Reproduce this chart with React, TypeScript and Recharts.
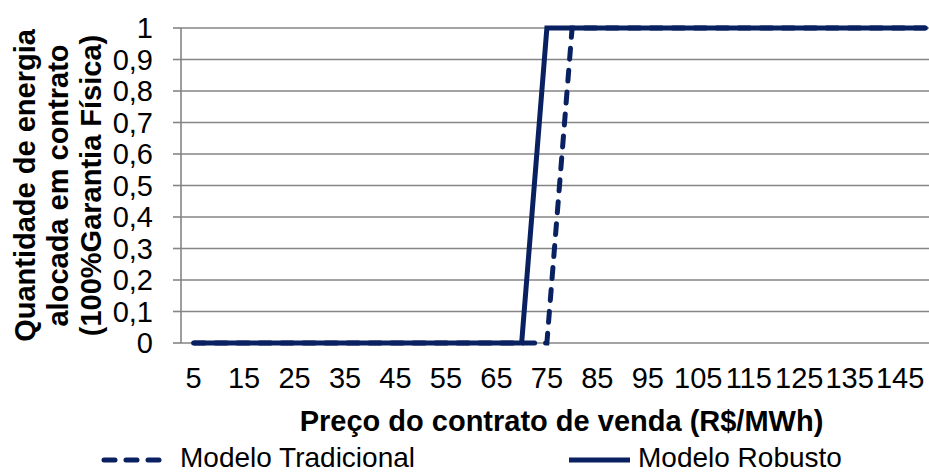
import { CartesianGrid, Legend, Line, LineChart, XAxis, YAxis } from 'recharts';

// Sale price of the contract (R$/MWh), one category every 5
const prices = [5, 10, 15, 20, 25, 30, 35, 40, 45, 50, 55, 60, 65, 70, 75, 80, 85, 90, 95, 100, 105, 110, 115, 120, 125, 130, 135, 140, 145, 150];

// Share of the physical guarantee allocated in contract
const tradicional = [0, 0, 0, 0, 0, 0, 0, 0, 0, 0, 0, 0, 0, 0, 0, 1, 1, 1, 1, 1, 1, 1, 1, 1, 1, 1, 1, 1, 1, 1];
const robusto = [0, 0, 0, 0, 0, 0, 0, 0, 0, 0, 0, 0, 0, 0, 1, 1, 1, 1, 1, 1, 1, 1, 1, 1, 1, 1, 1, 1, 1, 1];

const priceLabels = [5, 15, 25, 35, 45, 55, 65, 75, 85, 95, 105, 115, 125, 135, 145];
const energyTicks = [0, 0.1, 0.2, 0.3, 0.4, 0.5, 0.6, 0.7, 0.8, 0.9, 1];

const yTitleLines = ['Quantidade de energia', 'alocada em contrato', '(100%Garantia Física)'];
const xTitle = 'Preço do contrato de venda (R$/MWh)';

const data = prices.map((price, i) => ({ price, tradicional: tradicional[i], robusto: robusto[i] }));

// Excel-style category bands: tick marks sit on the band edges, labels in the middle
const halfStep = 2.5;
const bandEdges = [...prices.map((p) => p - halfStep), prices[prices.length - 1] + halfStep];
const xDomain = [prices[0] - halfStep, prices[prices.length - 1] + halfStep];

const FONT = '"Liberation Sans", Arial, sans-serif';
const NAVY = '#0a2161';
const GRID = '#858585';

function EnergyAxisTitle(props: any) {
  const vb = props.viewBox || { y: 28, height: 315 };
  const cy = vb.y + vb.height / 2;
  return (
    <g>
      {yTitleLines.map((line, i) => {
        const x = 35 + i * 33;
        return (
          <text
            key={line}
            x={x}
            y={cy}
            transform={`rotate(-90 ${x} ${cy})`}
            textAnchor="middle"
            fontFamily={FONT}
            fontWeight="bold"
            fontSize={29}
            fill="#000"
          >
            {line}
          </text>
        );
      })}
    </g>
  );
}

function PriceAxisTitle(props: any) {
  const vb = props.viewBox || { x: 181, y: 343, width: 757 };
  return (
    <text
      x={vb.x + vb.width / 2 + 2}
      y={vb.y + 88}
      textAnchor="middle"
      fontFamily={FONT}
      fontWeight="bold"
      fontSize={29}
      fill="#000"
    >
      {xTitle}
    </text>
  );
}

// legend placement, keyed by series name (dashed series first)
const legendSlots: Record<string, { x1: number; x2: number; textX: number }> = {
  'Modelo Tradicional': { x1: 104, x2: 163, textX: 180 },
  'Modelo Robusto': { x1: 569, x2: 630, textX: 638 },
};

function LegendContent(props: any) {
  const payload = props.payload || [];
  return (
    <svg width={929} height={33}>
      {payload.map((entry: any) => {
        const slot = legendSlots[entry.value];
        if (!slot) return null;
        const dash = entry.payload?.strokeDasharray;
        return (
          <g key={entry.value}>
            <line
              x1={slot.x1}
              x2={slot.x2}
              y1={20}
              y2={20}
              stroke={NAVY}
              strokeWidth={5}
              strokeDasharray={dash}
              strokeLinecap={dash ? 'round' : 'butt'}
            />
            <text x={slot.textX} y={26.5} fontFamily={FONT} fontSize={28} fill="#000">
              {entry.value}
            </text>
          </g>
        );
      })}
    </svg>
  );
}

export default function App() {
  return (
    <div style={{ position: 'absolute', left: 0, top: 0, width: 929, height: 473, overflow: 'hidden', background: '#fff' }}>
      <LineChart width={946} height={473} data={data} margin={{ top: 28, right: 8, bottom: 0, left: 0 }}>
        <CartesianGrid vertical={false} stroke={GRID} strokeWidth={1.6} />
        <XAxis
          xAxisId="bands"
          dataKey="price"
          type="number"
          domain={xDomain}
          ticks={bandEdges}
          height={0}
          tickSize={9}
          tickFormatter={() => ''}
          stroke={GRID}
          strokeWidth={1.6}
          tickLine={{ stroke: GRID, strokeWidth: 1.6 }}
          axisLine={{ stroke: GRID, strokeWidth: 1.6 }}
        />
        <XAxis
          xAxisId="labels"
          dataKey="price"
          type="number"
          domain={xDomain}
          ticks={priceLabels}
          interval={0}
          height={130}
          tickSize={0}
          tickMargin={24}
          tickLine={false}
          axisLine={false}
          tick={{ fontFamily: FONT, fontSize: 29, fill: '#000' }}
          label={{ content: PriceAxisTitle }}
        />
        <YAxis
          type="number"
          domain={[0, 1]}
          ticks={energyTicks}
          interval={0}
          width={181}
          tickSize={8}
          tickMargin={20}
          tickFormatter={(v: number) => String(v).replace('.', ',')}
          tick={{ fontFamily: FONT, fontSize: 29, fill: '#000' }}
          tickLine={{ stroke: GRID, strokeWidth: 1.6 }}
          axisLine={{ stroke: GRID, strokeWidth: 1.6 }}
          label={{ content: EnergyAxisTitle }}
        />
        <Line
          xAxisId="bands"
          name="Modelo Tradicional"
          dataKey="tradicional"
          type="linear"
          stroke={NAVY}
          strokeWidth={5}
          strokeDasharray="11 11"
          strokeLinecap="round"
          dot={false}
          activeDot={false}
          isAnimationActive={false}
        />
        <Line
          xAxisId="bands"
          name="Modelo Robusto"
          dataKey="robusto"
          type="linear"
          stroke={NAVY}
          strokeWidth={5}
          strokeLinejoin="miter"
          dot={false}
          activeDot={false}
          isAnimationActive={false}
        />
        <Legend
          layout="horizontal"
          verticalAlign="middle"
          align="center"
          wrapperStyle={{ position: 'absolute', left: 0, top: 440, width: 929, height: 33 }}
          content={LegendContent}
        />
      </LineChart>
    </div>
  );
}
